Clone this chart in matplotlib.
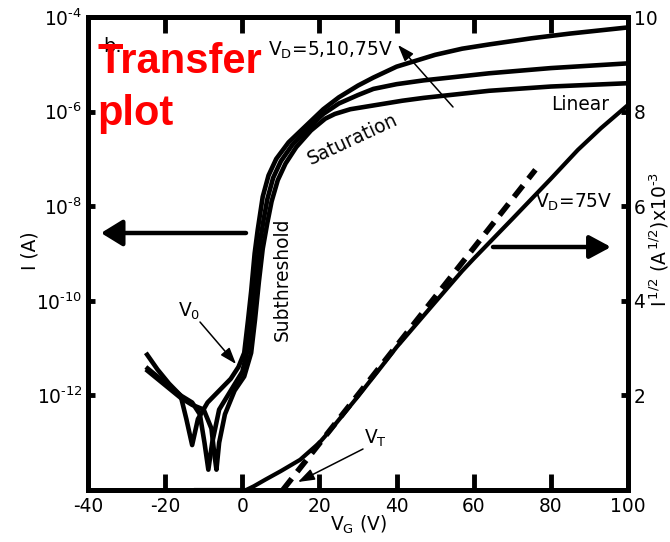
import matplotlib
matplotlib.use('Agg')
import matplotlib.pyplot as plt
import numpy as np
from matplotlib.ticker import NullLocator

plt.rcParams['font.family'] = ['DejaVu Sans']
plt.rcParams['mathtext.fontset'] = 'dejavusans'
plt.rcParams['mathtext.default'] = 'regular'
plt.rcParams['axes.unicode_minus'] = False

# ---------------- data ----------------
# Transfer curves: gate voltage (V) and log10 of drain current (A)
vg_vd75 = [-25, -22, -19, -16, -14.5, -13, -11.5, -9, -6, -3, -1, 0.5, 1.5, 2.3, 3.2, 4.0, 5.3, 6.8,
           8.8, 12, 16.5, 21, 25, 30, 34, 40, 44, 50, 57, 64, 75, 85, 100]
logi_vd75 = [-11.1, -11.45, -11.75, -12.0, -12.5, -13.05, -12.5, -12.15, -11.9, -11.65, -11.4, -11.1,
             -10.4, -9.8, -9.0, -8.5, -7.8, -7.35, -7.0, -6.65, -6.3, -5.95, -5.7, -5.45, -5.28, -5.05,
             -4.95, -4.80, -4.67, -4.58, -4.45, -4.35, -4.22]

vg_vd10 = [-25, -22, -19, -16, -13, -11, -9.8, -8.8, -7.8, -6, -3, 0, 1.5, 2.5, 3.5, 4.5, 5.5, 6.5, 8,
           10, 13, 17, 21, 25, 30, 34, 40, 47, 55, 64, 80, 100]
logi_vd10 = [-11.4, -11.6, -11.8, -12.0, -12.15, -12.4, -13.0, -13.57, -13.0, -12.3, -11.9, -11.5,
             -11.0, -10.3, -9.5, -8.8, -8.3, -7.85, -7.4, -7.05, -6.7, -6.36, -6.05, -5.83, -5.65,
             -5.52, -5.42, -5.34, -5.27, -5.19, -5.08, -4.98]

vg_vd5 = [-25, -22, -19, -16, -13, -10, -8, -7.3, -6.7, -6, -4.5, -2, 0.5, 2.3, 3.3, 4.3, 5.3, 6.5, 7.6,
          9.2, 11.2, 14, 17.8, 21.5, 24, 28, 34, 41.5, 47, 64, 80, 100]
logi_vd5 = [-11.45, -11.65, -11.85, -12.05, -12.2, -12.3, -12.7, -13.2, -13.57, -13.0, -12.4, -11.9,
            -11.6, -11.1, -10.4, -9.6, -8.9, -8.35, -7.9, -7.45, -7.1, -6.75, -6.4, -6.15, -6.05,
            -5.95, -5.87, -5.77, -5.71, -5.56, -5.47, -5.40]

# Square-root of current (x10^-3 A^1/2) at VD = 75 V
vg_sqrt = [-12, 1, 3, 6, 10, 15, 20, 23, 30, 36, 40, 50, 57, 60, 70, 74, 80, 87, 93, 100]
sqrt_id = [0, 0, 0.08, 0.22, 0.4, 0.64, 1.0, 1.28, 1.98, 2.6, 3.02, 3.97, 4.63, 4.89, 5.73, 6.07,
           6.58, 7.19, 7.65, 8.14]

# Linear extrapolation giving V_T
vg_fit = [10.5, 76]
sqrt_fit = [0, 6.77]

x_ticks = [-40, -20, 0, 20, 40, 60, 80, 100]
left_ticks = [1e-12, 1e-10, 1e-8, 1e-6, 1e-4]
left_exps = [-12, -10, -8, -6, -4]
right_ticks = [2, 4, 6, 8, 10]

# ---------------- figure ----------------
W, H = 670, 542
fig = plt.figure(figsize=(W / 100, H / 100), dpi=100)
ax = fig.add_axes([88 / W, 52 / H, 540 / W, 473 / H])

def P(px, py):
    return (px / W, 1 - py / H)

lw_curve = 3.3
for vg, li in [(vg_vd5, logi_vd5), (vg_vd10, logi_vd10), (vg_vd75, logi_vd75)]:
    ax.plot(vg, 10.0 ** np.array(li), color='black', lw=lw_curve,
            solid_capstyle='butt', solid_joinstyle='round')

fs = 13.4
ax.set_yscale('log')
ax.set_xlim(-40, 100)
ax.set_ylim(1e-14, 1e-4)
ax.set_yticks(left_ticks)
ax.set_yticklabels(['10$^{\u2010' + str(abs(e)) + '}$' for e in left_exps])
ax.yaxis.set_minor_locator(NullLocator())
ax.set_xticks(x_ticks)
ax.set_xticklabels([str(t) for t in x_ticks])
ax.tick_params(axis='x', direction='in', length=11.5, width=3.5, top=True, labeltop=False,
               labelsize=fs, pad=5)
ax.tick_params(axis='y', direction='in', length=5, width=3.5, labelsize=fs, pad=4)

ax2 = ax.twinx()
ax2.plot(vg_sqrt, sqrt_id, color='black', lw=3.0, solid_joinstyle='round')
ax2.plot(vg_fit, sqrt_fit, color='black', lw=4.0, linestyle=(0, (2.6, 1.6)))
ax2.set_ylim(0, 10)
ax2.set_yticks(right_ticks)
ax2.set_yticklabels([str(t) for t in right_ticks])
ax2.tick_params(axis='y', direction='in', length=5, width=3.5, labelsize=fs, pad=4)

for a in (ax, ax2):
    for s in a.spines.values():
        s.set_linewidth(3.6)

# ---------------- axis labels ----------------
fig.text(*P(30, 251), 'I (A)', rotation=90, ha='center', va='center', fontsize=fs)
fig.text(*P(359, 525), r'$V_G$ (V)', ha='center', va='center', fontsize=fs)
fig.text(*P(659, 239), '$I^{\\,1/2}$ ($A^{\\,1/2}$)x$10^{\u2010 3}$', rotation=90, ha='center',
         va='center', fontsize=13.5)

# ---------------- annotations ----------------
fig.text(*P(103, 52), 'b.', fontsize=14, ha='left', va='baseline', color='black')
fig.text(*P(97, 73), 'Transfer', fontsize=30, fontweight='bold', color='#ff0000',
         family='Liberation Sans', ha='left', va='baseline', zorder=5)
fig.text(*P(97, 125), 'plot', fontsize=30, fontweight='bold', color='#ff0000',
         family='Liberation Sans', ha='left', va='baseline', zorder=5)

fs_ann = 13.4
fig.text(*P(330, 50), r'$V_D$=5,10,75V', fontsize=fs_ann, ha='center', va='center')
fig.text(*P(353, 139), 'Saturation', fontsize=fs_ann, rotation=25, ha='center', va='center')
fig.text(*P(282, 279), 'Subthreshold', fontsize=fs_ann, rotation=90, ha='center', va='center')
fig.text(*P(580, 104), 'Linear', fontsize=fs_ann, ha='center', va='center')
fig.text(*P(574, 202), r'$V_D$=75V', fontsize=fs_ann, ha='center', va='center')
fig.text(*P(189, 311), r'$V_0$', fontsize=fs_ann, ha='center', va='center')
fig.text(*P(375, 438), r'$V_T$', fontsize=fs_ann, ha='center', va='center')

def arrow(x0, y0, x1, y1, lw, style):
    fig.add_artist(matplotlib.patches.FancyArrowPatch(
        (x0, H - y0), (x1, H - y1), transform=None, arrowstyle=style,
        lw=lw, color='black', shrinkA=0, shrinkB=0, mutation_scale=10))

# big direction arrows
arrow(246, 233, 101, 233, 3.2, '-|>,head_length=1.3,head_width=0.8')
arrow(493, 247, 611, 247, 3.2, '-|>,head_length=1.3,head_width=0.7')
# thin pointer arrows
arrow(453, 107, 398, 45, 1.1, '-|>,head_length=1.0,head_width=0.35')
arrow(200, 322, 236, 364, 1.1, '-|>,head_length=1.0,head_width=0.35')
arrow(363, 449, 298, 482, 1.1, '-|>,head_length=1.0,head_width=0.35')

fig.savefig('out.png', dpi=100)
